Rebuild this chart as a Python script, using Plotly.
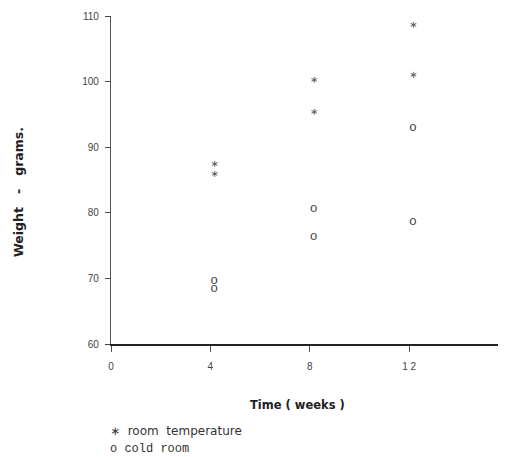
import plotly.graph_objects as go

# Data
weeks_room = [4, 4, 8, 8, 12, 12]
weight_room = [87.3, 85.9, 100.1, 95.3, 108.5, 100.9]
weeks_cold = [4, 4, 8, 8, 12, 12]
weight_cold = [69.6, 68.4, 80.6, 76.3, 93.0, 78.6]

x_tickvals = [0, 4, 8, 12]
x_ticktext = ["0", "4", "8", "1 2"]
y_tickvals = [60, 70, 80, 90, 100, 110]
y_ticktext = ["60", "70", "80", "90", "100", "110"]

ink = "#2a2a2a"
NB = "\u00a0"

# The page body has an 8px default margin; figure is sized so the plot sits
# where the reference's plot sits in the 506x457 window.
W, H = 498, 449
L, T, B = 103, 8, 113
PW, PH = W - L, H - T - B


def px_x(page_x):
    return (page_x - 8 - L) / PW


def px_y(page_y):
    return (H - B - (page_y - 8)) / PH


fig = go.Figure()
fig.add_trace(go.Scatter(
    x=weeks_room, y=weight_room, mode="text", text=["∗"] * len(weeks_room),
    textposition="middle right", textfont=dict(family="DejaVu Sans", size=10, color="#555"),
    name="room temperature", showlegend=False))
fig.add_trace(go.Scatter(
    x=weeks_cold, y=weight_cold, mode="text", text=["o"] * len(weeks_cold),
    textposition="middle right", textfont=dict(family="Liberation Mono", size=13, color="#444"),
    name="cold room", showlegend=False))

fig.update_layout(
    width=W, height=H,
    margin=dict(l=L, r=0, t=T, b=B),
    paper_bgcolor="white", plot_bgcolor="white",
    font=dict(family="Liberation Sans, Arial", color=ink, size=10),
    xaxis=dict(range=[0, 15.9], tickvals=x_tickvals, ticktext=x_ticktext,
               showgrid=False, zeroline=False, showline=True, linecolor="#222",
               linewidth=1.5, ticks="outside", ticklen=6, tickcolor="#555",
               ticklabelstandoff=6, tickfont=dict(size=10, color="#444")),
    yaxis=dict(range=[60, 110], tickvals=y_tickvals, ticktext=y_ticktext,
               showgrid=False, zeroline=False, showline=True, linecolor="#555",
               linewidth=1.2, ticks="outside", ticklen=5, tickcolor="#444",
               ticklabelstandoff=4, tickfont=dict(size=10, color="#444")),
    annotations=[
        dict(text="<b>Time ( weeks )</b>", xref="paper", yref="paper",
             x=px_x(297), y=px_y(405), showarrow=False,
             xanchor="center", yanchor="middle",
             font=dict(family="DejaVu Sans", size=11.5, color="#222")),
        dict(text="<b>Weight" + NB * 3 + "-" + NB * 3 + "grams.</b>", xref="paper", yref="paper",
             x=px_x(18), y=px_y(192), showarrow=False, textangle=-90,
             xanchor="center", yanchor="middle",
             font=dict(family="DejaVu Sans", size=12.5, color="#222")),
        dict(text="∗" + NB * 2 + "room" + NB * 2 + "temperature", xref="paper", yref="paper",
             x=px_x(108), y=px_y(431), showarrow=False,
             xanchor="left", yanchor="middle",
             font=dict(family="DejaVu Sans", size=12, color="#333")),
        dict(text="o" + NB + "cold" + NB + "room", xref="paper", yref="paper",
             x=px_x(108), y=px_y(449), showarrow=False,
             xanchor="left", yanchor="middle",
             font=dict(family="Liberation Mono, DejaVu Sans Mono", size=12, color="#333")),
    ],
)

fig.write_html("out.html")
